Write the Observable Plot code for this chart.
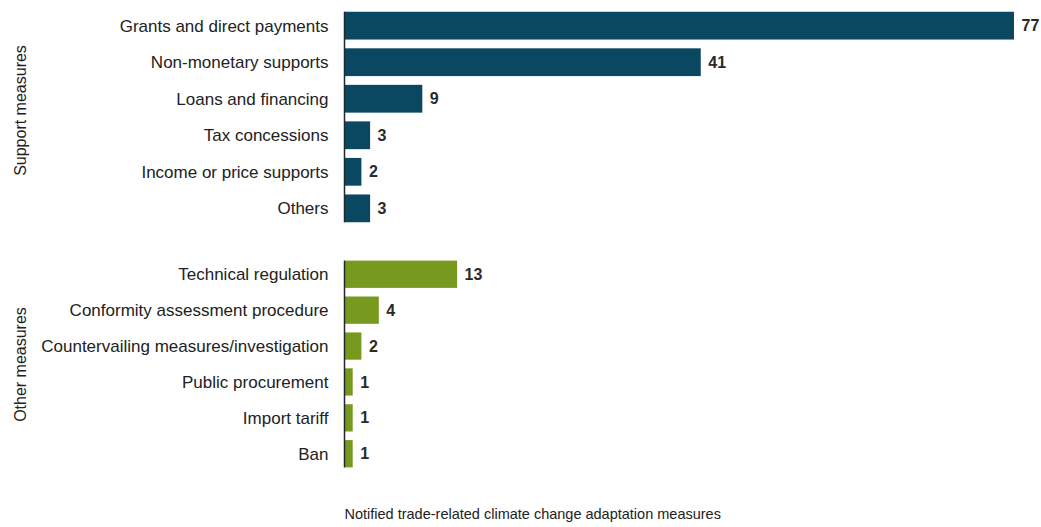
<!DOCTYPE html>
<html><head><meta charset="utf-8">
<script src="https://cdn.jsdelivr.net/npm/d3@7"></script>
<script src="https://cdn.jsdelivr.net/npm/@observablehq/plot@0.6"></script>
<style>
body{margin:0;background:#fff;}
#chart svg{display:block;}
</style>
</head><body><div id="chart"></div>
<script>
const supportLabels = ["Grants and direct payments","Non-monetary supports","Loans and financing","Tax concessions","Income or price supports","Others"];
const supportValues = [77,41,9,3,2,3];
const otherLabels = ["Technical regulation","Conformity assessment procedure","Countervailing measures/investigation","Public procurement","Import tariff","Ban"];
const otherValues = [13,4,2,1,1,1];
const groupNames = ["Support measures","Other measures"];
const xLabel = "Notified trade-related climate change adaptation measures";
const groupColors = ["#0a4862","#779a1e"];
const xDomain = [0,77];

const font = "'Liberation Sans', Arial, sans-serif";
const W = 1041, ML = 344, MR = 27;

function panel(labels, values, group, color, {marginTop, marginBottom, height, groupDy, withXLabel}) {
  const data = labels.map((l,i)=>({label:l, value:values[i]}));
  const marks = [
    Plot.barX(data, {x:"value", y:"label", fill: color}),
    Plot.ruleX([{x:0, y1:labels[0], y2:labels[labels.length-1]}], {x:"x", y1:"y1", y2:"y2", stroke:"#1e2a2f", strokeWidth:1.5}),
    Plot.text(data, {x:"value", y:"label", text:d=>String(d.value), textAnchor:"start", dx:7, fontSize:16, fontWeight:"600", fill:"#2a2a2a"}),
    Plot.text([group], {frameAnchor:"left", text:d=>d, rotate:-90, textAnchor:"middle", dx:-324, dy:groupDy, fontSize:16, fill:"#222"})
  ];
  if (withXLabel) {
    marks.push(Plot.text([xLabel], {frameAnchor:"bottom-left", text:d=>d, textAnchor:"start", dy:42, fontSize:14.5, fill:"#222"}));
  }
  return Plot.plot({
    width: W, height, marginLeft: ML, marginRight: MR, marginTop, marginBottom,
    style: {fontFamily: font, fontSize: "17px", color:"#222", background:"#fff", overflow:"visible"},
    x: {domain: xDomain, axis: null},
    y: {domain: labels, padding: 0.24, round: false, label: null, tickSize: 0, tickPadding: 16},
    marks
  });
}

const el = document.getElementById("chart");
el.appendChild(panel(supportLabels, supportValues, groupNames[0], groupColors[0], {marginTop:3, marginBottom:0, height:231, groupDy:-7}));
el.appendChild(panel(otherLabels, otherValues, groupNames[1], groupColors[1], {marginTop:21, marginBottom:51, height:296, groupDy:0, withXLabel:true}));
</script>
</body></html>
